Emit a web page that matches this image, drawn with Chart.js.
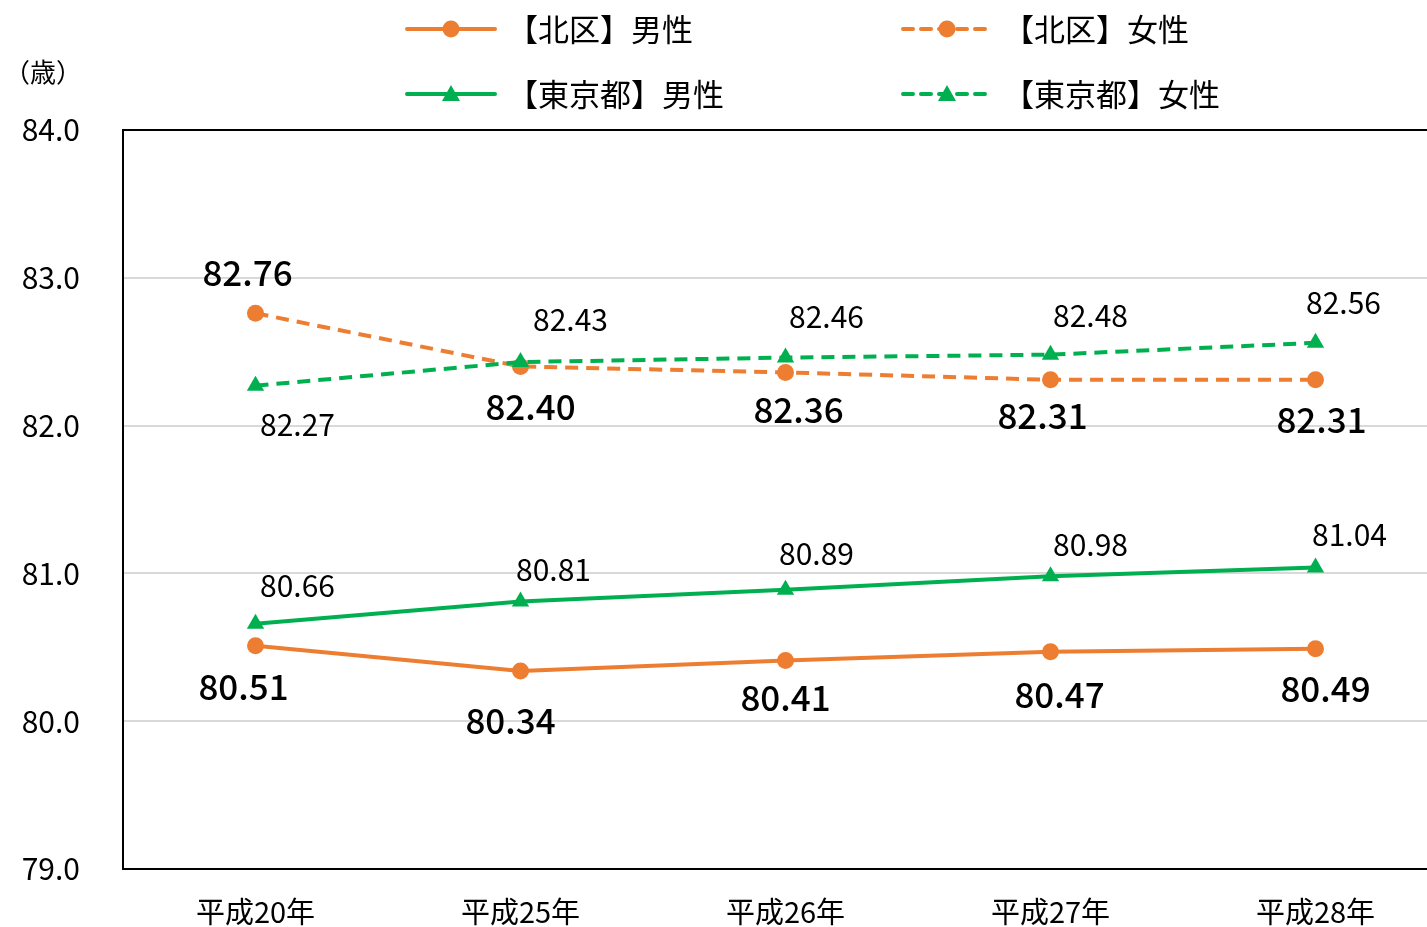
<!DOCTYPE html>
<html><head><meta charset="utf-8">
<script src="https://cdn.jsdelivr.net/npm/chart.js@4"></script>
<style>
html,body{margin:0;padding:0;background:#fff;overflow:hidden;width:1427px;height:927px;}
#wrap{width:1450px;height:927px;position:relative;}
canvas{display:block;}
</style></head><body>
<div id="wrap"><canvas id="c" width="1450" height="927"></canvas></div>
<script>
const categories = ['平成20年','平成25年','平成26年','平成27年','平成28年'];
const kitaMale = [80.51, 80.34, 80.41, 80.47, 80.49];
const kitaFemale = [82.76, 82.40, 82.36, 82.31, 82.31];
const tokyoMale = [80.66, 80.81, 80.89, 80.98, 81.04];
const tokyoFemale = [82.27, 82.43, 82.46, 82.48, 82.56];
const seriesNames = ['【北区】男性','【北区】女性','【東京都】男性','【東京都】女性'];
const yMin = 79, yMax = 84, yStep = 1;
const unitLabel = '（歳）';

const ORANGE = '#ED7D31', GREEN = '#00B050';
const FONT = '"Noto Sans CJK JP", "Noto Sans", sans-serif';

// label placement offsets (dx, dy) relative to each point
const labelOffsets = [
  [[-12,41],[-10,50],[0,37],[9,43],[10,40]],
  [[-8,-41],[10,40],[13,37],[-8,36],[6,40]],
  [[42,-38],[33,-32],[31,-36],[40,-32],[34,-33]],
  [[42,39],[50,-42],[41,-41],[40,-39],[28,-40]]
];
const labelFonts = ['500 35px '+FONT,'500 35px '+FONT,'400 30px '+FONT,'400 30px '+FONT];

function ds(label, data, color, dashed, style, radius, order){
  return {label, data, borderColor:color, backgroundColor:color, borderWidth:4,
    borderDash: dashed ? [13,8] : [], pointStyle:style, pointRadius:radius,
    pointHoverRadius:radius, pointBorderWidth:0, tension:0, fill:false, order};
}

const labelsPlugin = {
  id:'labels',
  afterDatasetsDraw(chart){
    const ctx = chart.ctx;
    ctx.save();
    ctx.fillStyle = '#000';
    ctx.textAlign = 'center';
    ctx.textBaseline = 'middle';
    chart.data.datasets.forEach((d,i)=>{
      const meta = chart.getDatasetMeta(i);
      ctx.font = labelFonts[i];
      meta.data.forEach((p,j)=>{
        const o = labelOffsets[i][j];
        ctx.fillText(d.data[j].toFixed(2), p.x+o[0], p.y+o[1]);
      });
    });
    ctx.restore();
  }
};

const framePlugin = {
  id:'frame',
  afterDraw(chart){
    const {ctx, chartArea:a} = chart;
    ctx.save();
    ctx.strokeStyle = '#000';
    ctx.lineWidth = 2;
    ctx.strokeRect(a.left, a.top, a.right-a.left, a.bottom-a.top);
    // unit label
    ctx.fillStyle = '#000';
    ctx.font = '400 26px '+FONT;
    ctx.textAlign = 'left';
    ctx.textBaseline = 'middle';
    ctx.fillText(unitLabel, 4, 72);
    // legend
    const items = [
      {x:407, y:29, color:ORANGE, dashed:false, style:'circle'},
      {x:903, y:29, color:ORANGE, dashed:true, style:'circle'},
      {x:407, y:94, color:GREEN, dashed:false, style:'triangle'},
      {x:903, y:94, color:GREEN, dashed:true, style:'triangle'}
    ];
    items.forEach((it,i)=>{
      ctx.strokeStyle = it.color;
      ctx.lineWidth = 4;
      ctx.lineCap = 'round';
      ctx.setLineDash(it.dashed ? [10,8] : []);
      ctx.beginPath(); ctx.moveTo(it.x, it.y); ctx.lineTo(it.x+88, it.y); ctx.stroke();
      ctx.setLineDash([]);
      ctx.fillStyle = it.color;
      const cx = it.x+44;
      if(it.style==='circle'){
        ctx.beginPath(); ctx.arc(cx, it.y, 8.5, 0, Math.PI*2); ctx.fill();
      } else {
        ctx.beginPath(); ctx.moveTo(cx, it.y-9); ctx.lineTo(cx+9, it.y+7); ctx.lineTo(cx-9, it.y+7); ctx.closePath(); ctx.fill();
      }
      ctx.fillStyle = '#000';
      ctx.font = '400 31px '+FONT;
      ctx.textAlign = 'left';
      ctx.fillText(seriesNames[i], it.x+100, it.y);
    });
    ctx.restore();
  }
};

new Chart(document.getElementById('c'), {
  type:'line',
  data:{
    labels:categories,
    datasets:[
      ds(seriesNames[0], kitaMale, ORANGE, false, 'circle', 8.5, 4),
      ds(seriesNames[1], kitaFemale, ORANGE, true, 'circle', 8.5, 3),
      ds(seriesNames[2], tokyoMale, GREEN, false, 'triangle', 10, 2),
      ds(seriesNames[3], tokyoFemale, GREEN, true, 'triangle', 10, 1)
    ]
  },
  options:{
    responsive:false, animation:false,
    layout:{autoPadding:false, padding:{top:130, right:2, left:0, bottom:0}},
    plugins:{legend:{display:false}, tooltip:{enabled:false}},
    scales:{
      x:{
        offset:true,
        grid:{display:false, drawTicks:false},
        border:{display:false},
        ticks:{color:'#000', font:{family:FONT, size:29, lineHeight:1}, padding:28, maxRotation:0},
        afterFit(s){ s.height = 57; }
      },
      y:{
        min:yMin, max:yMax,
        grid:{color:'#d9d9d9', lineWidth:2, drawTicks:false},
        border:{display:false},
        ticks:{stepSize:yStep, color:'#000', font:{family:FONT, size:30, lineHeight:1}, padding:43,
          callback:v=>Number(v).toFixed(1)},
        afterFit(s){ s.width = 123; }
      }
    }
  },
  plugins:[labelsPlugin, framePlugin]
});
</script>
</body></html>
